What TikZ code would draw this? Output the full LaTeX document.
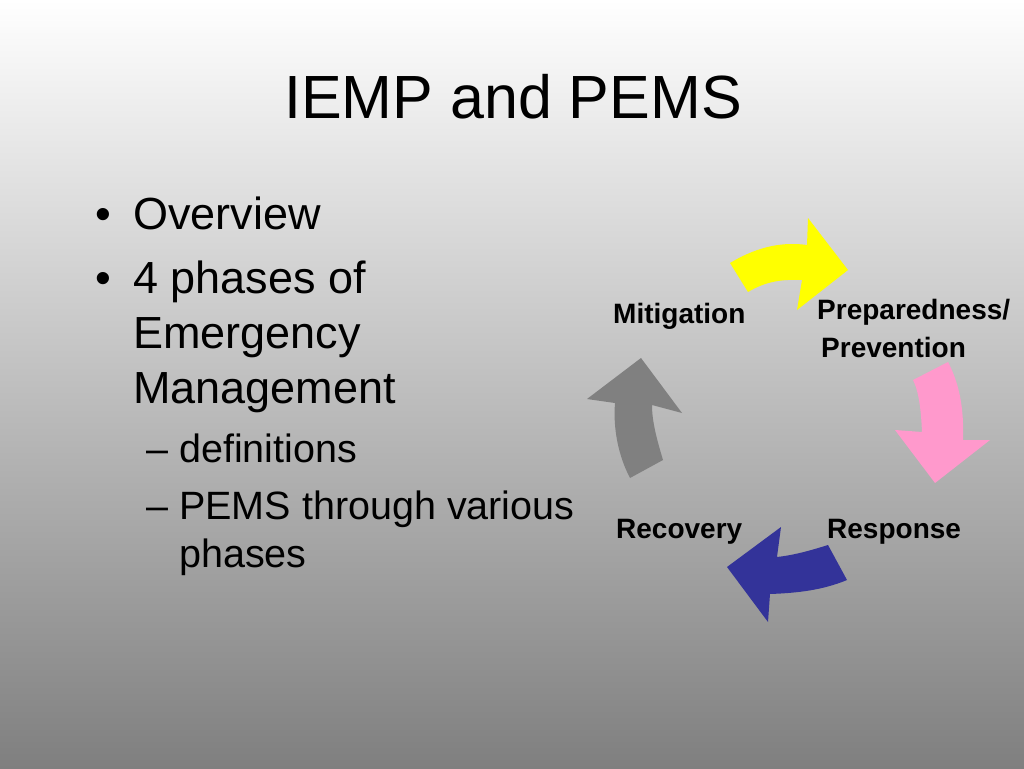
\documentclass[tikz,border=0pt]{standalone}
\usepackage{fontspec}
\setmainfont{Liberation Sans}
\definecolor{slidegray}{HTML}{7F7F7F}
\definecolor{phaseyellow}{HTML}{FFFF00}
\definecolor{phasepink}{HTML}{FF99CC}
\definecolor{phaseblue}{HTML}{333399}
\definecolor{phasegray}{HTML}{808080}
\begin{document}
\begin{tikzpicture}
[x=1pt, y=-1pt, txt/.style={anchor=base west, inner sep=0pt},
 bul/.style={txt, font=\fontsize{45}{54}\selectfont},
 sub/.style={txt, font=\fontsize{39.5}{47}\selectfont},
 lbl/.style={txt, font=\fontsize{28}{33}\selectfont\bfseries}]
\useasboundingbox (0,0) rectangle (1024,768);
\shade[top color=white, bottom color=slidegray] (0,0) rectangle (1024,768);
\node[inner sep=0pt, anchor=base, font=\fontsize{61}{73}\selectfont] (title) at (513,118) {IEMP and PEMS};
% bullets
\node[bul] (b1) at (95,229) {\textbullet};
\node[bul] (overview) at (133,229) {Overview};
\node[bul] (b2) at (95,293) {\textbullet};
\node[bul] (phases1) at (133,293) {4 phases of};
\node[bul] (phases2) at (133,348) {Emergency};
\node[bul] (phases3) at (133,403) {Management};
\node[sub] (d1) at (146,462) {\textendash};
\node[sub] (defs) at (179,462) {definitions};
\node[sub] (d2) at (146,519) {\textendash};
\node[sub] (pems1) at (179,519) {PEMS through various};
\node[sub] (pems2) at (179,567) {phases};
% phase cycle
\fill[phaseyellow] (730,263) .. controls (760,245) and (785,242) .. (807,245) -- (808,218) -- (848,270)
      -- (797,310) -- (802,280) .. controls (780,279) and (765,282) .. (748,292) -- cycle;
\fill[phasepink] (948,362) .. controls (960,385) and (964,410) .. (963,440) -- (990,440) -- (935,483)
      -- (895,430) -- (922,432) .. controls (921,410) and (919,392) .. (913,380) -- cycle;
\fill[phaseblue] (828,545) .. controls (812,550) and (795,555) .. (777,557) -- (781,527) -- (727,567)
      -- (768,622) -- (770,594) .. controls (798,593) and (823,590) .. (847,580) -- cycle;
\fill[phasegray] (663,460) .. controls (657,440) and (652,422) .. (652,405) -- (682,413) -- (641,358)
      -- (587,399) -- (615,403) .. controls (613,428) and (618,455) .. (630,478) -- cycle;
\node[lbl] (mitigation) at (613,323) {Mitigation};
\node[lbl] (prep) at (817,319) {Preparedness/};
\node[lbl] (prev) at (821,357) {Prevention};
\node[lbl] (recovery) at (616,538) {Recovery};
\node[lbl] (response) at (827,538) {Response};
\end{tikzpicture}
\end{document}
